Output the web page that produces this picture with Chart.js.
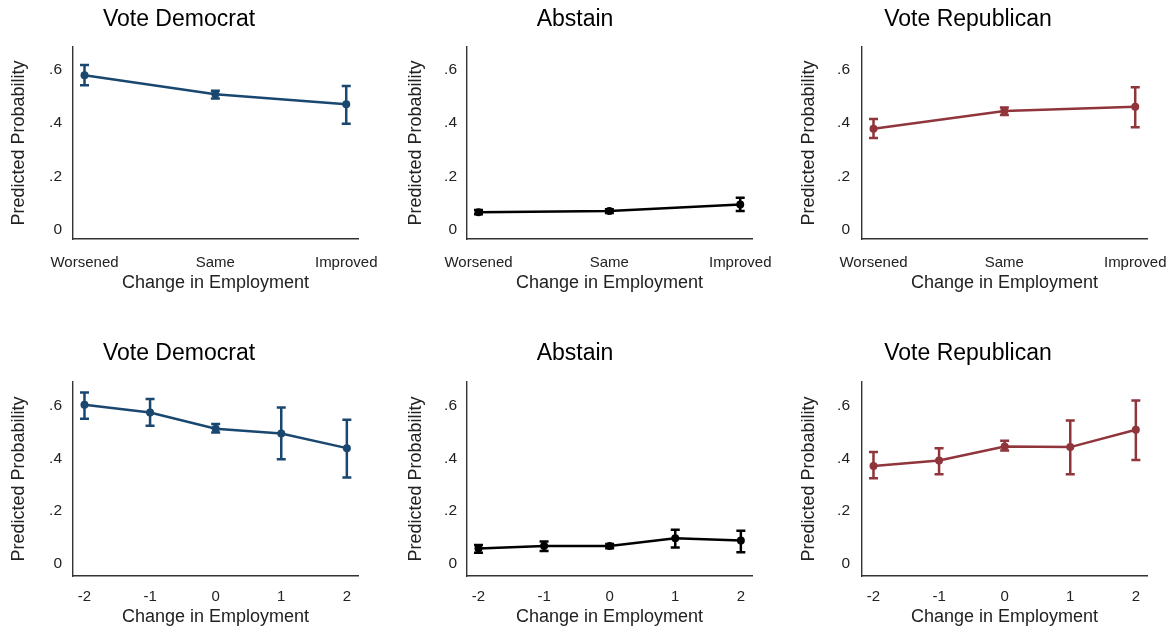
<!DOCTYPE html>
<html><head><meta charset="utf-8">
<script src="https://cdn.jsdelivr.net/npm/chart.js@4.4.1/dist/chart.umd.min.js"></script>
<style>
html,body{margin:0;padding:0;background:#fff;width:1174px;height:633px;overflow:hidden;position:relative;}
canvas{position:absolute;}
</style></head><body>
<canvas id="c0"></canvas><canvas id="c1"></canvas><canvas id="c2"></canvas>
<canvas id="c3"></canvas><canvas id="c4"></canvas><canvas id="c5"></canvas>
<script>
// ---------- data ----------
const panelTitles = ['Vote Democrat', 'Abstain', 'Vote Republican'];
const xAxisTitle = 'Change in Employment';
const yAxisTitle = 'Predicted Probability';
const catX = [0, 1, 2];
const catLabels = ['Worsened', 'Same', 'Improved'];
const numX = [-2, -1, 0, 1, 2];
const numLabels = ['-2', '-1', '0', '1', '2'];
const yTicks = [0, 0.2, 0.4, 0.6];
const yTickLabels = ['0', '.2', '.4', '.6'];

// top row (categorical change)
const demCat   = [0.581, 0.509, 0.471];
const demCatLo = [0.543, 0.493, 0.398];
const demCatHi = [0.619, 0.522, 0.540];
const absCat   = [0.065, 0.069, 0.094];
const absCatLo = [0.057, 0.062, 0.069];
const absCatHi = [0.073, 0.076, 0.119];
const repCat   = [0.379, 0.446, 0.462];
const repCatLo = [0.344, 0.431, 0.385];
const repCatHi = [0.416, 0.459, 0.535];

// bottom row (numeric change)
const demNum   = [0.604, 0.575, 0.513, 0.495, 0.439];
const demNumLo = [0.551, 0.524, 0.499, 0.397, 0.327];
const demNumHi = [0.651, 0.626, 0.531, 0.594, 0.547];
const absNum   = [0.057, 0.066, 0.066, 0.096, 0.087];
const absNumLo = [0.041, 0.047, 0.058, 0.061, 0.042];
const absNumHi = [0.070, 0.083, 0.074, 0.128, 0.124];
const repNum   = [0.371, 0.392, 0.445, 0.443, 0.509];
const repNumLo = [0.324, 0.340, 0.430, 0.340, 0.394];
const repNumHi = [0.424, 0.439, 0.467, 0.544, 0.621];

const colors = ['#1a476f', '#000000', '#90353b'];
const FONT = '"Liberation Sans", Arial, sans-serif';

// ---------- layout ----------
const cols = [
  {left: 0,   width: 390, padR: 32, yWidth: 73, yTitlePad: 7.8, yTickPad: 11},
  {left: 398, width: 390, padR: 36, yWidth: 69, yTitlePad: 6.8, yTickPad: 10},
  {left: 789, width: 385, padR: 27, yWidth: 73, yTitlePad: 8.8, yTickPad: 12}
];
const rows = [
  {top: 0,   height: 300, titleTop: 6, titleBottom: 13.4, chartBottom: 239, xTickPad: 15.2, xTitleBottom: 6.5, yMin: -0.036, yMax: 0.687},
  {top: 334, height: 299, titleTop: 6, titleBottom: 14.4, chartBottom: 242, xTickPad: 12.2, xTitleBottom: 5.5, yMin: -0.048, yMax: 0.691}
];

const errorBars = {
  id: 'errorBars',
  beforeDatasetsDraw(chart) {
    const {ctx, scales: {x, y}} = chart;
    chart.data.datasets.forEach(ds => {
      ctx.save();
      ctx.strokeStyle = ds.borderColor;
      ctx.lineWidth = 2.5;
      ds.data.forEach((p, i) => {
        const px = x.getPixelForValue(p.x);
        const yl = y.getPixelForValue(ds.errLo[i]);
        const yh = y.getPixelForValue(ds.errHi[i]);
        ctx.beginPath();
        ctx.moveTo(px, yl); ctx.lineTo(px, yh);
        ctx.moveTo(px - 4.5, yl); ctx.lineTo(px + 4.5, yl);
        ctx.moveTo(px - 4.5, yh); ctx.lineTo(px + 4.5, yh);
        ctx.stroke();
      });
      ctx.restore();
    });
  }
};

function makeChart(id, col, row, title, color, xs, xLabels, xMin, xMax, vals, lo, hi) {
  const cv = document.getElementById(id);
  cv.width = col.width; cv.height = row.height;
  cv.style.left = col.left + 'px'; cv.style.top = row.top + 'px';
  cv.style.width = col.width + 'px'; cv.style.height = row.height + 'px';
  new Chart(cv, {
    type: 'line',
    data: {datasets: [{
      data: xs.map((x, i) => ({x: x, y: vals[i]})),
      errLo: lo, errHi: hi,
      borderColor: color, backgroundColor: color,
      borderWidth: 2.5, pointRadius: 4, pointBorderWidth: 0,
      pointBackgroundColor: color, tension: 0, clip: false
    }]},
    options: {
      responsive: false, animation: false, devicePixelRatio: 1,
      layout: {padding: {left: 0, top: 0, right: col.padR, bottom: 0}},
      plugins: {
        legend: {display: false}, tooltip: {enabled: false},
        title: {display: true, text: title, color: '#000',
          font: {family: FONT, size: 23, weight: 'normal'},
          padding: {top: row.titleTop, bottom: row.titleBottom}}
      },
      scales: {
        x: {
          type: 'linear', min: xMin, max: xMax,
          grid: {display: false, drawTicks: false},
          border: {display: true, color: '#333', width: 1.4},
          afterBuildTicks: s => { s.ticks = xs.map(v => ({value: v})); },
          ticks: {callback: v => xLabels[xs.indexOf(v)], autoSkip: false, maxRotation: 0,
            padding: row.xTickPad, color: '#222', font: {family: FONT, size: 15}},
          title: {display: true, text: xAxisTitle, color: '#222',
            font: {family: FONT, size: 18}, padding: {top: 0, bottom: row.xTitleBottom}},
          afterFit: s => { s.height = row.height - row.chartBottom; s.paddingLeft = 0; s.paddingRight = 0; }
        },
        y: {
          type: 'linear', min: row.yMin, max: row.yMax,
          grid: {display: false, drawTicks: false},
          border: {display: true, color: '#333', width: 1.4},
          afterBuildTicks: s => { s.ticks = yTicks.map(v => ({value: v})); },
          ticks: {callback: v => yTickLabels[yTicks.indexOf(v)], padding: col.yTickPad,
            color: '#222', font: {family: FONT, size: 15.5}},
          title: {display: true, text: yAxisTitle, color: '#222',
            font: {family: FONT, size: 18}, padding: {top: col.yTitlePad, bottom: 0}},
          afterFit: s => { s.width = col.yWidth; s.paddingTop = 0; s.paddingBottom = 0; }
        }
      }
    },
    plugins: [errorBars]
  });
}

makeChart('c0', cols[0], rows[0], panelTitles[0], colors[0], catX, catLabels, -0.088, 2.09, demCat, demCatLo, demCatHi);
makeChart('c1', cols[1], rows[0], panelTitles[1], colors[1], catX, catLabels, -0.088, 2.09, absCat, absCatLo, absCatHi);
makeChart('c2', cols[2], rows[0], panelTitles[2], colors[2], catX, catLabels, -0.088, 2.09, repCat, repCatLo, repCatHi);
makeChart('c3', cols[0], rows[1], panelTitles[0], colors[0], numX, numLabels, -2.175, 2.17, demNum, demNumLo, demNumHi);
makeChart('c4', cols[1], rows[1], panelTitles[1], colors[1], numX, numLabels, -2.175, 2.17, absNum, absNumLo, absNumHi);
makeChart('c5', cols[2], rows[1], panelTitles[2], colors[2], numX, numLabels, -2.175, 2.17, repNum, repNumLo, repNumHi);
</script>
</body></html>
